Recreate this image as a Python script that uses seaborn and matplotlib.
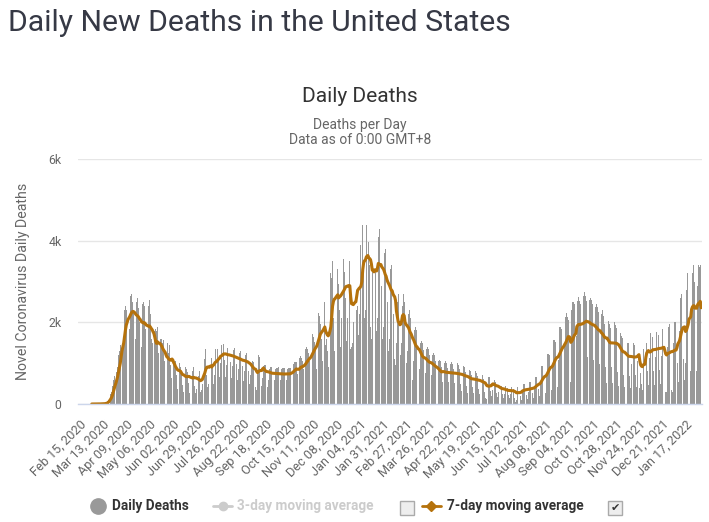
import numpy as np
import pandas as pd
import seaborn as sns
import matplotlib.pyplot as plt
from matplotlib.lines import Line2D

start_date = "2020-02-15"
# daily deaths, one row per week (Sat .. Fri)
daily_deaths = [
    0, 0, 0, 0, 0, 0, 0,
    0, 0, 0, 0, 0, 0, 0,
    1, 0, 1, 4, 3, 2, 1,
    2, 3, 4, 5, 7, 8, 10,
    10, 12, 25, 40, 70, 110, 150,
    220, 250, 300, 430, 580, 680, 700,
    650, 780, 900, 1200, 1300, 1450, 1780,
    1700, 1450, 1600, 2300, 2400, 2300, 2250,
    2200, 1700, 1850, 2650, 2700, 2500, 2290,
    2100, 1550, 1600, 2500, 2600, 2350, 2000,
    1950, 1250, 1400, 2450, 2500, 2400, 1850,
    1700, 1200, 1300, 2400, 2550, 2200, 1600,
    1500, 850, 1000, 1800, 1850, 1800, 1900,
    1250, 850, 950, 1600, 1600, 1500, 1560,
    1050, 620, 520, 1250, 1500, 1250, 1440,
    950, 630, 700, 1050, 1050, 1000, 1060,
    700, 380, 560, 1000, 1000, 900, 780,
    470, 300, 500, 870, 900, 870, 780,
    520, 280, 400, 820, 850, 800, 915,
    430, 270, 380, 750, 800, 690, 810,
    300, 350, 480, 1150, 1150, 1100, 1350,
    700, 420, 480, 1100, 1300, 1200, 1140,
    950, 500, 700, 1350, 1400, 1300, 1360,
    1100, 650, 1000, 1450, 1480, 1450, 1480,
    1080, 660, 960, 1380, 1440, 1440, 1440,
    1040, 630, 920, 1320, 1380, 1380, 1380,
    980, 590, 860, 1240, 1300, 1300, 1290,
    930, 570, 820, 1190, 1240, 1230, 1230,
    800, 480, 700, 1000, 1050, 1040, 1020,
    720, 420, 350, 800, 1200, 1150, 1100,
    720, 440, 640, 920, 960, 960, 960,
    680, 420, 600, 870, 910, 900, 905,
    670, 410, 600, 860, 890, 890, 895,
    660, 400, 590, 850, 880, 880, 885,
    670, 410, 590, 850, 890, 880, 890,
    770, 470, 690, 990, 1030, 1030, 1040,
    730, 455, 680, 1140, 1180, 1140, 1045,
    860, 540, 810, 1350, 1400, 1350, 1250,
    1060, 660, 990, 1650, 1720, 1650, 1510,
    1380, 860, 1290, 2150, 2240, 2150, 1970,
    1600, 1050, 1500, 2450, 2500, 1450, 1600,
    1300, 900, 1800, 3000, 3200, 3100, 3500,
    2100, 1300, 1900, 3250, 3400, 3300, 2950,
    2300, 1400, 2100, 3500, 3650, 3550, 3240,
    2600, 1550, 2100, 3600, 3700, 3500, 1350,
    1400, 1500, 2000, 3800, 3900, 3600, 2300,
    2400, 1700, 2200, 3900, 4200, 4300, 4400,
    3500, 2100, 2300, 4400, 4400, 4380, 3980,
    3400, 1900, 1600, 3300, 4400, 4100, 4330,
    3300, 1800, 2100, 4100, 4300, 4000, 4340,
    2900, 1600, 1900, 3700, 3800, 3700, 3750,
    2500, 1300, 1600, 3300, 3400, 3600, 3200,
    2200, 1100, 950, 1500, 2500, 2700, 3050,
    1800, 1200, 1500, 2400, 2700, 2500, 1900,
    1500, 1000, 1300, 2200, 2300, 2100, 1640,
    1100, 600, 1050, 1820, 1890, 1820, 1520,
    800, 520, 860, 1500, 1550, 1500, 1320,
    720, 460, 770, 1340, 1390, 1340, 1190,
    650, 420, 700, 1210, 1260, 1210, 1060,
    550, 300, 600, 1050, 1080, 1050, 900,
    540, 350, 580, 1010, 1050, 1010, 885,
    530, 340, 570, 990, 1030, 990, 870,
    520, 330, 555, 960, 1000, 960, 855,
    480, 310, 520, 900, 930, 900, 790,
    430, 280, 465, 805, 840, 805, 715,
    410, 265, 440, 770, 800, 770, 675,
    380, 240, 405, 700, 730, 700, 625,
    300, 150, 120, 500, 700, 650, 660,
    320, 200, 340, 590, 615, 590, 530,
    265, 170, 285, 495, 515, 495, 435,
    235, 150, 250, 435, 450, 435, 390,
    225, 145, 240, 415, 430, 415, 370,
    150, 60, 90, 420, 450, 410, 380,
    190, 105, 280, 490, 490, 475, 420,
    210, 115, 305, 530, 530, 515, 455,
    260, 140, 375, 660, 660, 635, 560,
    365, 200, 530, 925, 925, 890, 785,
    485, 265, 705, 1230, 1230, 1190, 1055,
    615, 335, 895, 1570, 1570, 1510, 1345,
    750, 410, 1090, 1900, 1900, 1835, 1635,
    990, 580, 1400, 2145, 2230, 2145, 2060,
    1000, 450, 550, 2300, 2500, 2500, 2460,
    1170, 680, 1660, 2535, 2630, 2535, 2440,
    1220, 710, 1725, 2640, 2740, 2640, 2535,
    1150, 700, 1650, 2550, 2600, 2550, 2450,
    1090, 640, 1550, 2370, 2460, 2370, 2260,
    985, 575, 1300, 2200, 2300, 2150, 1970,
    900, 525, 1275, 1950, 2025, 1950, 1875,
    895, 520, 1265, 1935, 2010, 1935, 1870,
    775, 450, 1095, 1675, 1740, 1675, 1620,
    700, 410, 995, 1520, 1580, 1500, 1485,
    690, 400, 980, 1495, 1550, 1495, 1440,
    720, 420, 1050, 1650, 1700, 400, 760,
    500, 350, 1360, 1750, 1700, 1600, 1490,
    800, 470, 1130, 1730, 1800, 1730, 1650,
    815, 475, 1155, 1770, 1835, 1770, 1700,
    830, 490, 1180, 1830, 1900, 1800, 1100,
    300, 300, 1400, 1900, 1950, 1900, 1200,
    350, 300, 1500, 2000, 2000, 1900, 1610,
    1000, 550, 1800, 2600, 2700, 2500, 1940,
    1100, 600, 1000, 2800, 3200, 3000, 2860,
    1300, 800, 2300, 3200, 3400, 3000, 2450,
    1300, 800, 2900, 3420, 3350, 3400, 1350,
]
y_ticks = [0, 2000, 4000, 6000]
y_tick_labels = ["0", "2k", "4k", "6k"]
tick_every = 27

df = pd.DataFrame({
    "date": pd.date_range(start_date, periods=len(daily_deaths)),
    "deaths": daily_deaths,
})
df["day"] = np.arange(len(df))
df["ma7"] = df["deaths"].rolling(7).mean().where(df["deaths"].cumsum() > 0)

sns.set_theme(style="white")
plt.rcParams["font.family"] = ["Roboto", "DejaVu Sans"]

W, H = 709, 522
fig = plt.figure(figsize=(W / 100, H / 100), dpi=100)


def fx(x):
    return x / W


def fy(y):
    return 1 - y / H


ax = fig.add_axes([fx(78.3), fy(404), (701.7 - 78.3) / W, (404 - 159.3) / H])

sns.barplot(data=df, x="day", y="deaths", native_scale=True, color="#999999",
            saturation=1, width=0.8, linewidth=0, errorbar=None, ax=ax)
sns.lineplot(data=df, x="day", y="ma7", color="#b5720c", linewidth=2.2, ax=ax)

ax.set_xlim(-1.6, 720.7)
ax.set_ylim(0, 6000)
ax.set_yticks(y_ticks)
ax.set_yticklabels(y_tick_labels)
ticks = df["day"][::tick_every]
ax.set_xticks(ticks)
ax.set_xticklabels(df["date"][::tick_every].dt.strftime("%b %d, %Y"),
                   rotation=45, ha="right", va="top", rotation_mode="anchor")
ax.tick_params(axis="x", length=0, pad=10, labelsize=9.2, labelcolor="#666666")
ax.tick_params(axis="y", length=0, pad=12, labelsize=8.8, labelcolor="#666666")
ax.yaxis.grid(True, color="#e6e6e6", linewidth=1)
ax.set_axisbelow(True)
for s in ["top", "right", "left"]:
    ax.spines[s].set_visible(False)
ax.spines["bottom"].set_color("#ccd6eb")
ax.spines["bottom"].set_linewidth(1)
ax.set_xlabel("")
ax.set_ylabel("Novel Coronavirus Daily Deaths", fontsize=10.2, color="#666666")
ax.yaxis.set_label_coords(-0.0775, 0.5)

# titles
fig.text(fx(8), fy(31), "Daily New Deaths in the United States", fontsize=21.7,
         color="#363945", va="baseline", ha="left")
fig.text(fx(360), fy(101.5), "Daily Deaths", fontsize=15, color="#333333",
         ha="center", va="baseline")
fig.text(fx(360), fy(128.5), "Deaths per Day", fontsize=10, color="#666666",
         ha="center", va="baseline")
fig.text(fx(360), fy(144), "Data as of 0:00 GMT+8", fontsize=10, color="#666666",
         ha="center", va="baseline")

# legend
ly = 506
fig.add_artist(Line2D([fx(98)], [fy(ly)], marker="o", markersize=11,
                      color="#999999", transform=fig.transFigure))
fig.text(fx(112), fy(ly), "Daily Deaths", fontsize=9.8, fontweight="bold",
         color="#333333", va="center")
fig.add_artist(Line2D([fx(213), fx(232)], [fy(ly), fy(ly)], color="#cccccc",
                      linewidth=2, transform=fig.transFigure))
fig.add_artist(Line2D([fx(222.5)], [fy(ly)], marker="o", markersize=6,
                      color="#cccccc", transform=fig.transFigure))
fig.text(fx(237), fy(ly), "3-day moving average", fontsize=9.8, fontweight="bold",
         color="#cccccc", va="center")
fig.add_artist(Line2D([fx(421.5), fx(440.5)], [fy(ly), fy(ly)], color="#b5720c",
                      linewidth=2, transform=fig.transFigure))
fig.add_artist(Line2D([fx(431)], [fy(ly)], marker="D", markersize=5,
                      color="#b5720c", transform=fig.transFigure))
fig.text(fx(447), fy(ly), "7-day moving average", fontsize=9.8, fontweight="bold",
         color="#333333", va="center")
for cx in [407, 615]:
    fig.add_artist(Line2D([fx(cx)], [fy(ly + 2)], marker="s", markersize=10,
                          markerfacecolor="#eeeeee", markeredgecolor="#aaaaaa",
                          markeredgewidth=1, transform=fig.transFigure))
fig.text(fx(615), fy(ly + 2), "\u2714", fontsize=8, color="#333333",
         ha="center", va="center", family="DejaVu Sans")

fig.savefig("out.png", dpi=100, facecolor="white")
